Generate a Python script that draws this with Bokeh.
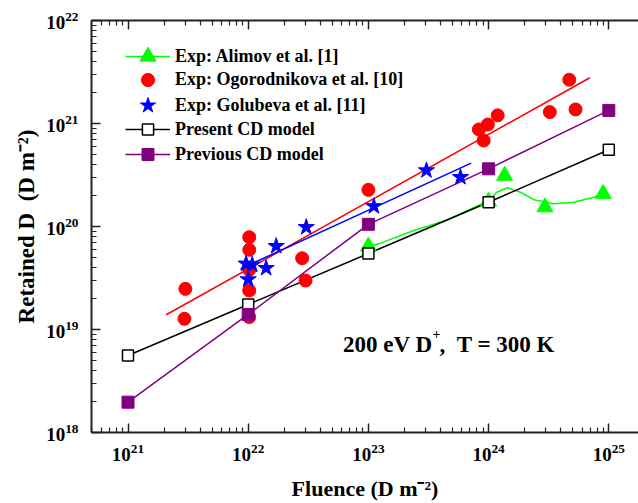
from bokeh.plotting import figure
from bokeh.models import Range1d, LogAxis, FixedTicker, Label, Legend, LegendItem
from bokeh.embed import file_html
from bokeh.resources import INLINE

# ---------------- data ----------------
alimov_x = [1.0e23, 1.0e24, 1.36e24, 2.94e24, 8.98e24]
alimov_y = [6.4e19, 1.75e20, 3.12e20, 1.54e20, 2.08e20]
alimov_fit_x = [1.0e23, 1.26e23, 2.39e23, 4.53e23, 1.0e24, 1.17e24, 1.43e24,
                1.84e24, 2.38e24, 3.48e24, 5.12e24, 7.50e24, 8.98e24]
alimov_fit_y = [6.4e19, 6.89e19, 9.14e19, 1.16e20, 1.78e20, 2.15e20, 2.38e20,
                2.15e20, 1.82e20, 1.66e20, 1.72e20, 1.92e20, 2.07e20]

ogo_x = [3.0e21, 2.95e21, 1.02e22, 1.02e22, 1.02e22, 1.02e22, 1.02e22, 2.81e22,
         3.0e22, 1.0e23, 8.3e23, 9.1e23, 9.85e23, 1.19e24, 3.23e24, 4.69e24, 5.29e24]
ogo_y = [2.48e19, 1.27e19, 7.87e19, 5.94e19, 3.8e19, 2.39e19, 1.32e19, 4.92e19,
         2.99e19, 2.27e20, 8.75e20, 6.84e20, 9.77e20, 1.2e21, 1.29e21, 2.66e21, 1.37e21]
ogo_fit_x = [2.08e21, 6.95e24]
ogo_fit_y = [1.39e19, 2.78e21]

gol_x = [9.6e21, 1.08e22, 1.0e22, 1.41e22, 1.71e22, 3.04e22, 1.11e23, 3.04e23, 5.83e23]
gol_y = [4.35e19, 4.25e19, 3.06e19, 3.94e19, 6.44e19, 9.84e19, 1.57e20, 3.5e20, 3.01e20]
gol_fit_x = [8.63e21, 7.16e23]
gol_fit_y = [3.88e19, 4.12e20]

cd_x = [1e21, 1e22, 1e23, 1e24, 1e25]
present_y = [5.6e18, 1.75e19, 5.47e19, 1.72e20, 5.56e20]
previous_y = [1.97e18, 1.40e19, 1.05e20, 3.63e20, 1.34e21]

x_decades = [21, 22, 23, 24, 25]
y_decades = [18, 19, 20, 21, 22]

x_title = "Fluence (D m\u207b\u00b2)"
y_title = "Retained D\u00a0\u00a0(D m\u207b\u00b2)"
note_main = "200 eV D"
note_sup = "+"
note_tail = ",\u00a0\u00a0T = 300 K"

# ---------------- layout ----------------
W, H = 638, 503
BL, BR, BT, BB = 91, 0, 20, 71
FL = BL
FR = W - BR
FT = BT
FB = H - BB
PPX = 120.2
PPY = (FB - FT) / 4.0
XLO = 21 + (FL - 127.5) / PPX
XHI = XLO + (FR - FL) / PPX
YLO, YHI = 18.0, 22.0

def X(px):
    return 10.0 ** (XLO + (px - FL) / PPX)

def Y(py):
    return 10.0 ** (YLO + (FB - py) / PPY)

FONT = "Liberation Serif"

p = figure(width=W, height=H, x_axis_type="log", y_axis_type="log",
           x_range=Range1d(10.0 ** XLO, 10.0 ** XHI), y_range=Range1d(10.0 ** YLO, 10.0 ** YHI),
           output_backend="svg", toolbar_location=None,
           min_border_left=BL, min_border_right=BR, min_border_top=BT, min_border_bottom=BB)
p.grid.visible = False
p.outline_line_color = None
p.background_fill_color = "white"
p.border_fill_color = "white"

bottom_axis = p.below[0]
left_axis = p.left[0]
top_axis = LogAxis()
p.add_layout(top_axis, "above")

def minor(decs):
    return [m * 10.0 ** k for k in range(decs[0] - 1, decs[-1] + 1) for m in range(2, 10)]

for ax, decs in ((bottom_axis, x_decades), (top_axis, x_decades), (left_axis, y_decades)):
    ax.ticker = FixedTicker(ticks=[10.0 ** d for d in decs], minor_ticks=minor(decs))
    ax.major_tick_in = 9
    ax.major_tick_out = 0
    ax.minor_tick_in = 5
    ax.minor_tick_out = 0
    ax.axis_line_width = 2
    ax.axis_line_color = "#222222"
    ax.major_tick_line_width = 1.5
    ax.major_tick_line_color = "#222222"
    ax.minor_tick_line_width = 1.2
    ax.minor_tick_line_color = "#222222"
    ax.major_label_text_font = FONT
    ax.major_label_text_font_style = "bold"
    ax.major_label_text_font_size = "19px"
    ax.major_label_text_color = "black"
    ax.axis_label_text_font = FONT
    ax.axis_label_text_font_style = "bold"
    ax.axis_label_text_font_size = "22px"
    ax.axis_label_text_color = "black"

top_axis.major_label_text_alpha = 0
top_axis.major_label_text_font_size = "6px"
top_axis.major_label_standoff = 0
top_axis.axis_label = None

bottom_axis.axis_label = x_title
bottom_axis.major_label_standoff = 11
bottom_axis.axis_label_standoff = 12

left_axis.axis_label = y_title
left_axis.axis_label_text_font_size = "23px"
left_axis.major_label_standoff = 13
left_axis.axis_label_standoff = 4

# ---------------- lines ----------------
r_ogo_fit = p.line(ogo_fit_x, ogo_fit_y, line_color="#FF0000", line_width=1.5)
r_gol_fit = p.line(gol_fit_x, gol_fit_y, line_color="#0000FF", line_width=1.5)
r_ali_line = p.line(alimov_fit_x, alimov_fit_y, line_color="#00FF00", line_width=1.5)
r_pre_line = p.line(cd_x, present_y, line_color="black", line_width=1.5)
r_prev_line = p.line(cd_x, previous_y, line_color="#800080", line_width=1.5)

# ---------------- markers ----------------
r_ogo = p.scatter(ogo_x, ogo_y, marker="circle", size=13, fill_color="#FF0000", line_color="#FF0000")
r_gol = p.scatter(gol_x, gol_y, marker="star", size=17, fill_color="#0000FF", line_color="#0000FF")
r_ali = p.scatter(alimov_x, alimov_y, marker="triangle", size=16, fill_color="#00FF00", line_color="#00FF00")
r_pre = p.scatter(cd_x, present_y, marker="square", size=11, fill_color="white", line_color="black", line_width=1.5)
r_prev = p.scatter(cd_x, previous_y, marker="square", size=12, fill_color="#800080", line_color="#800080")

# ---------------- legend (one per row so marker sizes can differ) ----------------
rows = [
    ("Exp: Alimov et al. [1]", [r_ali_line, r_ali], 40, 56),
    ("Exp: Ogorodnikova et al. [10]", [r_ogo], 33, 80),
    ("Exp: Golubeva et al. [11]", [r_gol], 40, 105),
    ("Present CD model", [r_pre_line, r_pre], 28, 129),
    ("Previous CD model", [r_prev_line, r_prev], 30, 154),
]
for label, rends, h, cy in rows:
    lg = Legend(items=[LegendItem(label=label, renderers=rends)],
                location=(125 - FL, int(round(FB - cy - h / 2.0))),
                glyph_width=45, glyph_height=h, label_height=h, label_standoff=5,
                padding=0, margin=0, spacing=0,
                border_line_alpha=0, background_fill_alpha=0,
                label_text_font=FONT, label_text_font_style="bold",
                label_text_font_size="18px", label_text_color="black")
    p.add_layout(lg, "center")

# ---------------- annotation ----------------
def lab(px, py, text, size, align="left"):
    p.add_layout(Label(x=X(px), y=Y(py), text=text, text_font=FONT, text_font_style="bold",
                       text_font_size=f"{size}px", text_align=align, text_baseline="middle",
                       text_color="black"))

lab(432, 344, note_main, 23, "right")
lab(432, 333, note_sup, 14, "left")
lab(439, 344, note_tail, 23, "left")

open("out.html", "w").write(file_html(p, INLINE))
